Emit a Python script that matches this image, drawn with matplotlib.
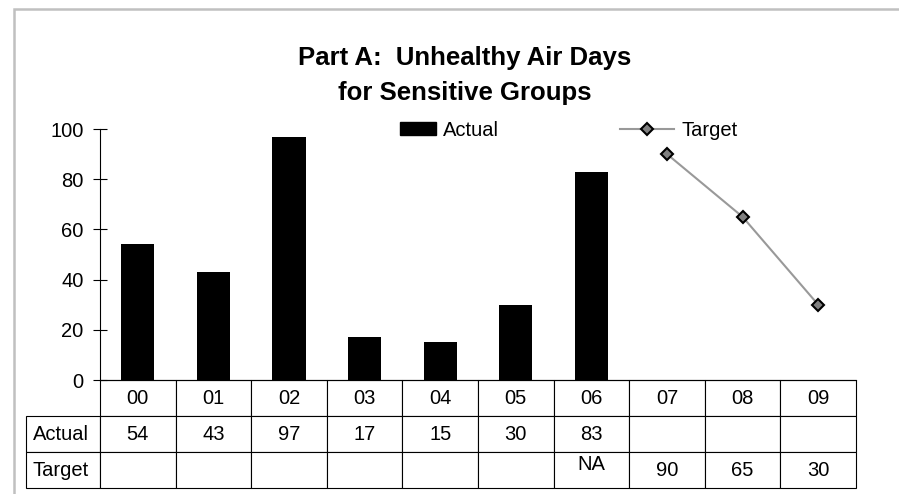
import matplotlib
matplotlib.use("Agg")
import matplotlib.pyplot as plt
from matplotlib.patches import Rectangle, Patch
from matplotlib.lines import Line2D
from matplotlib.table import Table
from matplotlib.legend_handler import HandlerPatch

plt.rcParams["font.family"] = ["Liberation Sans", "DejaVu Sans"]

years = ["00", "01", "02", "03", "04", "05", "06", "07", "08", "09"]
actual = [54, 43, 97, 17, 15, 30, 83]
target_years = ["07", "08", "09"]
target = [90, 65, 30]
actual_row = ["54", "43", "97", "17", "15", "30", "83", "", "", ""]
target_row = ["", "", "", "", "", "", "NA\n", "90", "65", "30"]
row_labels = ["Actual", "Target"]

W, H = 899, 494
FS = 14.5
fig = plt.figure(figsize=(W / 100, H / 100), dpi=100)
fig.patch.set_facecolor("white")

# outer chart frame (only top/left visible in the reference)
fig.patches.append(Rectangle((14 / W, -0.05), 1.1, 1 - 9 / H + 0.05,
                             transform=fig.transFigure, fill=False,
                             edgecolor="#c0c0c0", lw=1.8))

ax = fig.add_axes([100 / W, 1 - 380 / H, 756 / W, 251 / H])
x = list(range(len(years)))
ax.bar(x[:len(actual)], actual, width=0.44, color="black", zorder=2)
line_style = dict(color="#999999", lw=1.5, marker="D", markersize=6,
                  markerfacecolor="#808080", markeredgecolor="black",
                  markeredgewidth=1.5)
ax.plot([years.index(y) for y in target_years], target, zorder=3, **line_style)

ax.set_xlim(-0.5, len(years) - 0.5)
ax.set_ylim(0, 100)
ax.set_yticks([0, 20, 40, 60, 80, 100])
ax.tick_params(axis="y", labelsize=FS, length=9.5, width=0.8, pad=7, direction="inout")
ax.set_xticks([])
for s in ["top", "right"]:
    ax.spines[s].set_visible(False)
ax.spines["left"].set_linewidth(0.8)
ax.spines["bottom"].set_linewidth(0.8)

# data table under the axis (bbox covers the data cells; labels hang left)
lab_w = 74 / 756
tbl = Table(ax, bbox=[0, -108 / 251, 1, 108 / 251])
rows = [years, actual_row, target_row]
for r, vals in enumerate(rows):
    if r > 0:
        tbl.add_cell(r, -1, width=lab_w, height=0.1, text=row_labels[r - 1], loc="left")
    for c, v in enumerate(vals):
        tbl.add_cell(r, c, width=0.1, height=0.1, text=v, loc="center")
tbl.auto_set_font_size(False)
tbl.set_fontsize(FS)
for (r, c), cell in tbl.get_celld().items():
    cell.set_linewidth(0.8)
    cell.set_edgecolor("black")
    if c == -1:
        cell.PAD = 0.09
    if cell.get_text().get_text().endswith("\n"):
        cell.get_text().set_linespacing(0.5)  # NA sits a little high in its cell
ax.add_table(tbl)

fig.text(0.517, 1 - 65 / H, "Part A:  Unhealthy Air Days", ha="center",
         va="baseline", fontsize=18.5, fontweight="bold")
fig.text(0.517, 1 - 100 / H, "for Sensitive Groups", ha="center",
         va="baseline", fontsize=18.5, fontweight="bold")


def short_box(legend, orig_handle, xdescent, ydescent, width, height, fontsize):
    w = width * 0.667
    return Rectangle((width - w - xdescent, -ydescent), w, height)


handles = [Patch(facecolor="black", edgecolor="black"), Line2D([], [], **line_style)]
ax.legend(handles, ["Actual", "Target"], ncol=2, loc="center",
          bbox_to_anchor=(0.608, 0.996), frameon=False, fontsize=FS,
          handlelength=2.7, handleheight=0.65, handletextpad=0.35,
          columnspacing=6.0, borderpad=0, borderaxespad=0,
          handler_map={Patch: HandlerPatch(patch_func=short_box)})

fig.savefig("out.png", dpi=100)
